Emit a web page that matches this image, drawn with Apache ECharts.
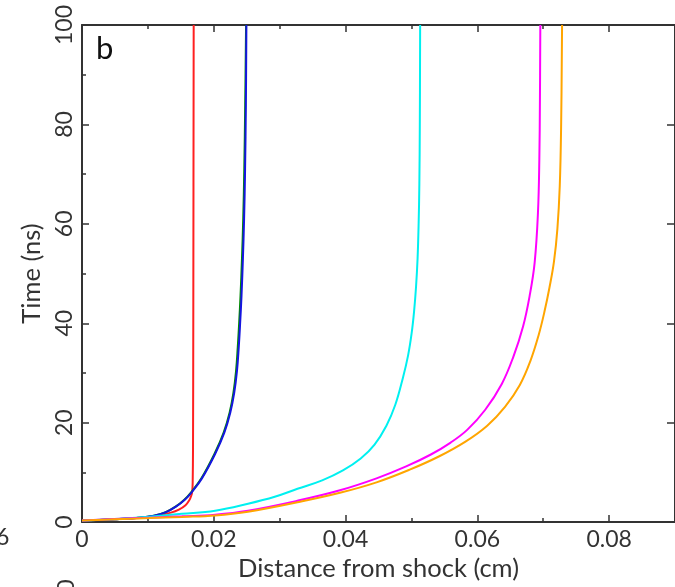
<!DOCTYPE html>
<html>
<head>
<meta charset="utf-8">
<script src="https://cdn.jsdelivr.net/npm/echarts@6/dist/echarts.min.js"></script>
<style>html,body{margin:0;padding:0;background:#fff;}#c{width:675px;height:587px;}</style>
</head>
<body>
<div id="c"></div>
<script>
// ---- data (x = distance from shock in cm, t = time in ns) ----
const xTickLabels = ['0', '0.02', '0.04', '0.06', '0.08'];
const yTickLabels = ['0', '20', '40', '60', '80', '100'];

const redT = [0.3, 0.56, 0.86, 1.4, 1.9, 2.5, 3.4, 4.4, 5.3, 6.2, 8, 15, 40, 100];
const redX = [0, 0.00495, 0.0087, 0.0117, 0.0135, 0.0147, 0.01571, 0.01628, 0.01658, 0.01673, 0.0168, 0.01685, 0.01689, 0.01695];

const greenT = [0.3, 0.56, 0.86, 1.26, 2, 3.1, 4.5, 6.1, 8.8, 13.7, 18, 22, 26, 30.4, 35.2, 40, 45.6, 53, 61, 71, 84, 100];
const greenX = [0, 0.00495, 0.0087, 0.0109, 0.0127, 0.0142, 0.01553, 0.01662, 0.01812, 0.0201, 0.0215, 0.0224, 0.02298, 0.02338, 0.02364, 0.02385, 0.02406, 0.02428, 0.02447, 0.02463, 0.02477, 0.0249];

const blueT = [0.3, 0.56, 0.86, 1.26, 2, 3.1, 4.5, 6.1, 8.8, 13.7, 18, 22, 26, 30.4, 35.2, 40, 45.6, 53, 61, 71, 84, 100];
const blueX = [0, 0.00495, 0.0087, 0.01095, 0.01275, 0.01425, 0.0156, 0.0167, 0.0182, 0.0202, 0.0216, 0.0225, 0.0231, 0.02352, 0.02379, 0.024, 0.02421, 0.02442, 0.0246, 0.02475, 0.02487, 0.02495];

const cyanT = [0.3, 0.6, 1.1, 1.66, 2.3, 3.7, 5.1, 6.7, 8.4, 10.4, 12.8, 15.6, 19.4, 23.6, 29, 33.6, 38, 42.4, 47.4, 53, 60, 68, 80, 100];
const cyanX = [0, 0.00495, 0.0102, 0.01515, 0.0202, 0.0252, 0.02925, 0.0327, 0.03645, 0.0396, 0.0423, 0.0444, 0.0462, 0.04755, 0.0487, 0.0495, 0.05003, 0.0504, 0.0507, 0.05093, 0.05109, 0.0512, 0.05127, 0.05132];

const magentaT = [0.3, 0.6, 0.9, 1.16, 1.5, 2.3, 4.3, 6.4, 8.8, 11.2, 13.6, 16, 18.6, 22.6, 27.8, 33.2, 39.4, 45.6, 52.2, 62.2, 73, 85, 100];
const magentaX = [0, 0.00495, 0.0102, 0.01515, 0.0202, 0.0252, 0.0327, 0.03915, 0.0447, 0.0492, 0.05295, 0.05595, 0.0585, 0.0612, 0.06371, 0.06545, 0.06695, 0.06795, 0.0687, 0.0692, 0.06941, 0.0695, 0.06956];

const orangeT = [0.3, 0.56, 0.8, 1.04, 1.34, 2.1, 4, 5.9, 8, 10.5, 13.2, 16.2, 19.4, 23.2, 27.6, 32.6, 37.6, 42.4, 47.2, 52.4, 59, 67.6, 80, 100];
const orangeX = [0, 0.00495, 0.0102, 0.01515, 0.0202, 0.0252, 0.0327, 0.03915, 0.0447, 0.04965, 0.05415, 0.0582, 0.0615, 0.0642, 0.06645, 0.0681, 0.0693, 0.0702, 0.07095, 0.07163, 0.07215, 0.07251, 0.07272, 0.07286];

const curves = [
  {name: 'red', color: '#ff2020', xs: redX, ts: redT, smooth: 0.25},
  {name: 'green', color: '#008a00', xs: greenX, ts: greenT, smooth: 0.4},
  {name: 'blue', color: '#1515e0', xs: blueX, ts: blueT, smooth: 0.4},
  {name: 'cyan', color: '#00f0f0', xs: cyanX, ts: cyanT, smooth: 0.4},
  {name: 'magenta', color: '#ff00ff', xs: magentaX, ts: magentaT, smooth: 0.4},
  {name: 'orange', color: '#ffa500', xs: orangeX, ts: orangeT, smooth: 0.4}
];

const FONT = 'Lato';
const TXT = '#333';
const AX = '#333';

function xFmt(v) {
  const k = Math.round(v * 100);
  if (k % 2 !== 0 || k / 2 >= xTickLabels.length) return '';
  return xTickLabels[k / 2];
}
function yFmt(v) {
  const k = Math.round(v / 20);
  return yTickLabels[k] !== undefined ? yTickLabels[k] : '';
}

const axisLineStyle = {show: true, onZero: false, lineStyle: {color: AX, width: 2}};
const tick = {show: true, inside: true, length: 7, lineStyle: {color: AX, width: 1.5}};
const minorTick = {show: true, splitNumber: 2, length: 4, lineStyle: {color: AX, width: 1.5}};

const chart = echarts.init(document.getElementById('c'), null, {renderer: 'canvas'});
chart.setOption({
  animation: false,
  backgroundColor: '#fff',
  grid: {left: 82, top: 25, width: 600, height: 500, containLabel: false},
  xAxis: [{
    type: 'value', min: 0, max: 0.09, interval: 0.02, position: 'bottom',
    axisLine: axisLineStyle, axisTick: tick, minorTick: minorTick,
    splitLine: {show: false}, minorSplitLine: {show: false},
    axisLabel: {formatter: xFmt, fontFamily: FONT, fontSize: 23, color: TXT, margin: 6, showMaxLabel: false},
    name: 'Distance from shock (cm)', nameLocation: 'middle', nameGap: 31,
    nameTextStyle: {fontFamily: FONT, fontSize: 25.5, color: TXT}
  }, {
    type: 'value', min: 0, max: 0.09, interval: 0.02, position: 'top',
    axisLine: axisLineStyle, axisTick: tick, minorTick: minorTick,
    splitLine: {show: false}, axisLabel: {show: false}
  }],
  yAxis: [{
    type: 'value', min: 0, max: 100, interval: 20, position: 'left',
    axisLine: axisLineStyle, axisTick: tick, minorTick: minorTick,
    splitLine: {show: false}, minorSplitLine: {show: false},
    axisLabel: {formatter: yFmt, rotate: 90, fontFamily: FONT, fontSize: 23, color: TXT, margin: 6},
    name: 'Time (ns)', nameLocation: 'middle', nameGap: 34, nameRotate: 90,
    nameTextStyle: {fontFamily: FONT, fontSize: 25.5, color: TXT}
  }, {
    type: 'value', min: 0, max: 100, interval: 20, position: 'right',
    axisLine: axisLineStyle, axisTick: {show: true, inside: true, length: 8, lineStyle: {color: AX, width: 1.5}},
    splitLine: {show: false}, axisLabel: {show: false}
  }],
  graphic: [
    {type: 'text', left: 96, top: 33, style: {text: 'b', fontFamily: FONT, fontSize: 31, fill: '#111'}},
    {type: 'text', x: -4, y: 526, style: {text: '6', fontFamily: FONT, fontSize: 23, fill: TXT}},
    {type: 'text', x: 67, y: 586, rotation: Math.PI / 2, style: {text: '0', fontFamily: FONT, fontSize: 23, fill: TXT, align: 'center', verticalAlign: 'middle'}}
  ],
  series: curves.map(c => ({
    type: 'line', name: c.name, xAxisIndex: 0, yAxisIndex: 0,
    data: c.xs.map((x, i) => [x, c.ts[i]]),
    showSymbol: false, smooth: c.smooth,
    lineStyle: {color: c.color, width: 2}, itemStyle: {color: c.color},
    clip: true
  }))
});
</script>
</body>
</html>
